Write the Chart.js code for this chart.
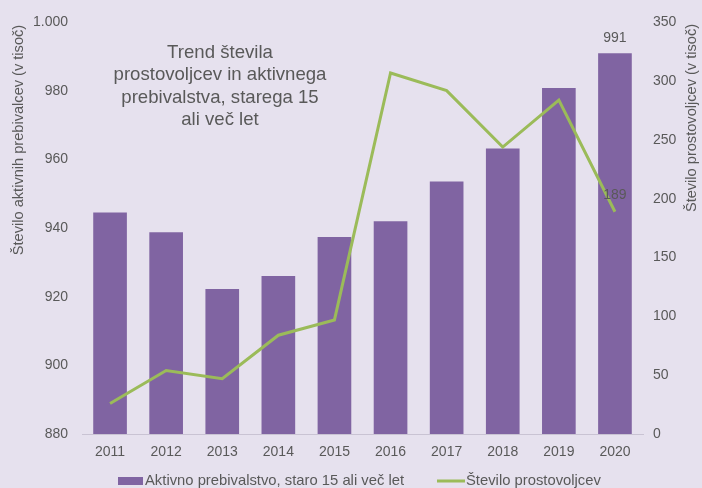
<!DOCTYPE html>
<html>
<head>
<meta charset="utf-8">
<script src="https://cdn.jsdelivr.net/npm/chart.js@4"></script>
<style>
  html, body { margin: 0; padding: 0; background: #e6e1ee; }
  #wrap { width: 702px; height: 488px; }
</style>
</head>
<body>
<div id="wrap"><canvas id="chart" width="702" height="488"></canvas></div>
<script>
// Data
const years = ['2011', '2012', '2013', '2014', '2015', '2016', '2017', '2018', '2019', '2020'];
const activePopulation = [944.6, 938.8, 922.3, 926.1, 937.4, 942.0, 953.6, 963.2, 980.9, 991.0];
const volunteers = [26, 54, 47, 84, 97, 307, 292, 244, 284, 189];
const leftTicks = [880, 900, 920, 940, 960, 980, 1000];
const rightTicks = [0, 50, 100, 150, 200, 250, 300, 350];

const titleLines = ['Trend števila', 'prostovoljcev in aktivnega', 'prebivalstva, starega 15', 'ali več let'];
const barLabel = 'Aktivno prebivalstvo, staro 15 ali več let';
const lineLabel = 'Število prostovoljcev';

const textColor = '#595959';
const barColor = '#8064a2';
const lineColor = '#9bbb59';
const sans = '"Liberation Sans", Arial, sans-serif';

Chart.defaults.font.family = sans;
Chart.defaults.color = textColor;

// extra drawing: title inside plot, value labels, axis titles, legend
const extras = {
    id: 'extras',
    afterDatasetsDraw(chart) {
        const ctx = chart.ctx;
        ctx.save();
        ctx.fillStyle = textColor;
        ctx.textAlign = 'center';
        ctx.textBaseline = 'middle';

        // title in the plot
        ctx.font = '18.6px ' + sans;
        titleLines.forEach((t, i) => ctx.fillText(t, 220, 53 + i * 22.2));

        // value labels on the last year
        const last = years.length - 1;
        const bar = chart.getDatasetMeta(0).data[last];
        ctx.font = '14px ' + sans;
        ctx.fillText(String(Math.round(activePopulation[last])), bar.x, bar.y - 15);
        const pt = chart.getDatasetMeta(1).data[last];
        ctx.fillText(String(volunteers[last]), pt.x, pt.y - 17);

        // left axis title
        ctx.font = '14.6px ' + sans;
        ctx.save();
        ctx.translate(19, 140);
        ctx.rotate(-Math.PI / 2);
        ctx.fillText('Število aktivnih prebivalcev (v tisoč)', 0, 0);
        ctx.restore();

        // right axis title (reads bottom to top)
        ctx.save();
        ctx.translate(692, 118);
        ctx.rotate(-Math.PI / 2);
        ctx.fillText('Število prostovoljcev (v tisoč)', 0, 0);
        ctx.restore();

        // legend
        ctx.textAlign = 'left';
        ctx.font = '14.8px ' + sans;
        ctx.fillStyle = barColor;
        ctx.fillRect(118, 477, 25, 8);
        ctx.fillStyle = textColor;
        ctx.fillText(barLabel, 145, 481);
        ctx.strokeStyle = lineColor;
        ctx.lineWidth = 3;
        ctx.beginPath();
        ctx.moveTo(437, 481);
        ctx.lineTo(465, 481);
        ctx.stroke();
        ctx.fillText(lineLabel, 466, 481);
        ctx.restore();
    }
};

new Chart(document.getElementById('chart').getContext('2d'), {
    data: {
        labels: years,
        datasets: [{
            type: 'bar',
            label: barLabel,
            data: activePopulation,
            backgroundColor: barColor,
            yAxisID: 'y',
            categoryPercentage: 1,
            barPercentage: 0.6,
            order: 2
        }, {
            type: 'line',
            label: lineLabel,
            data: volunteers,
            borderColor: lineColor,
            borderWidth: 3,
            pointRadius: 0,
            tension: 0,
            yAxisID: 'y1',
            order: 1
        }]
    },
    options: {
        responsive: false,
        animation: false,
        layout: { padding: { top: 20, right: 0, bottom: 0, left: 0 } },
        plugins: {
            legend: { display: false },
            tooltip: { enabled: false }
        },
        scales: {
            x: {
                grid: { display: false, drawTicks: false },
                border: { display: true, color: '#c9c3d3', width: 1 },
                ticks: { font: { size: 14 }, padding: 10 },
                afterFit(scale) { scale.height = 54; }
            },
            y: {
                position: 'left',
                min: 880,
                max: 1000,
                grid: { display: false, drawTicks: false },
                border: { display: false },
                afterBuildTicks(scale) { scale.ticks = leftTicks.map(v => ({ value: v })); },
                ticks: {
                    font: { size: 14 },
                    padding: 14,
                    callback: v => v === 1000 ? '1.000' : String(v)
                },
                afterFit(scale) { scale.width = 82; }
            },
            y1: {
                position: 'right',
                min: 0,
                max: 350,
                grid: { display: false, drawTicks: false },
                border: { display: false },
                afterBuildTicks(scale) { scale.ticks = rightTicks.map(v => ({ value: v })); },
                ticks: { font: { size: 14 }, padding: 10 },
                afterFit(scale) { scale.width = 59; }
            }
        }
    },
    plugins: [extras]
});
</script>
</body>
</html>
